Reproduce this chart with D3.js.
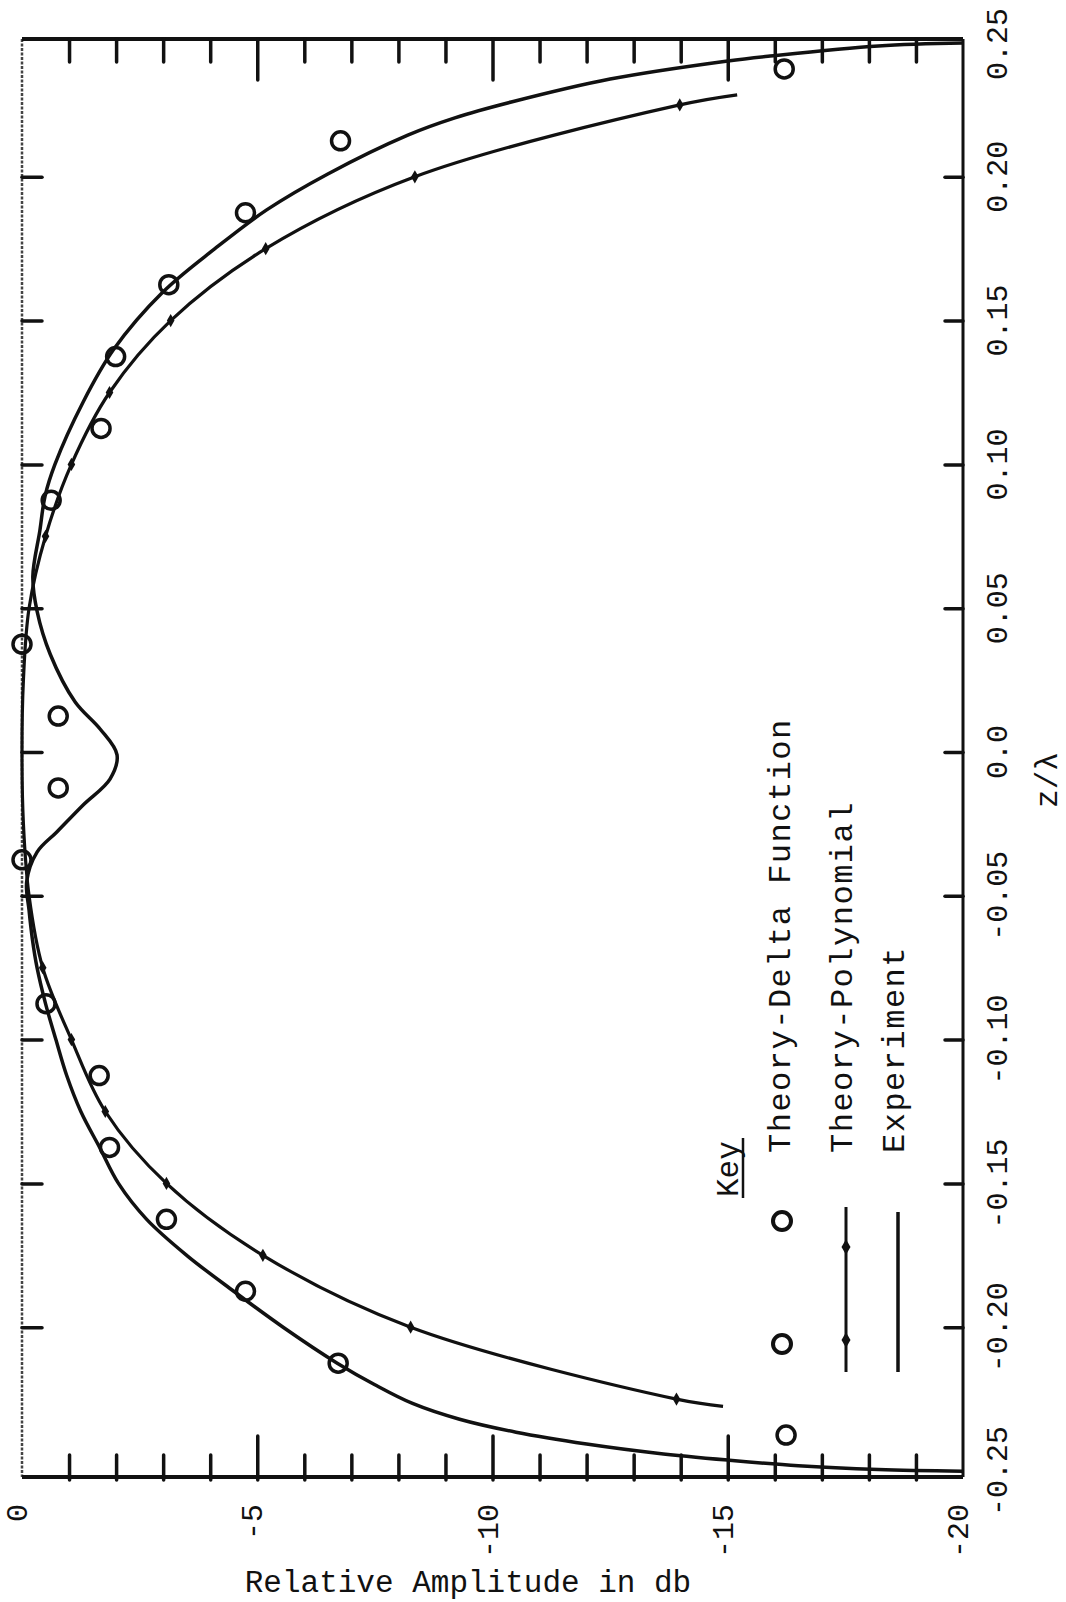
<!DOCTYPE html>
<html>
<head>
<meta charset="utf-8">
<script src="https://cdn.jsdelivr.net/npm/d3@7"></script>
<style>
  body { margin: 0; background: #fff; }
  text { font-family: "Liberation Mono", "DejaVu Sans Mono", monospace; fill: #111; }
</style>
</head>
<body>
<div id="chart"></div>
<script>
// Theory-Delta Function (open circles): z/lambda and relative amplitude in db
const deltaZ   = [0.2375, 0.2125, 0.1875, 0.1625, 0.1375, 0.1125, 0.0875, 0.0375, 0.0125, -0.0125, -0.0375, -0.0875, -0.1125, -0.1375, -0.1625, -0.1875, -0.2125, -0.2375];
const deltaAmp = [-16.2, -6.77, -4.75, -3.12, -1.99, -1.68, -0.62, 0.0, -0.77, -0.77, 0.0, -0.51, -1.64, -1.86, -3.07, -4.75, -6.72, -16.24];

// Theory-Polynomial (line with diamonds)
const polyZ   = [0.2285, 0.225, 0.2, 0.175, 0.15, 0.125, 0.1, 0.075, 0.05, 0.025, 0, -0.025, -0.05, -0.075, -0.1, -0.125, -0.15, -0.175, -0.2, -0.225, -0.2275];
const polyAmp = [-15.2, -13.98, -8.35, -5.18, -3.16, -1.86, -1.05, -0.5, -0.15, -0.03, 0, -0.03, -0.15, -0.44, -1.05, -1.77, -3.07, -5.12, -8.26, -13.91, -14.9];

// Experiment (plain line)
const expZ   = [0.2465, 0.2455, 0.242, 0.2403, 0.234, 0.226, 0.2205, 0.2145, 0.201, 0.1885, 0.175, 0.16, 0.14, 0.1217, 0.1, 0.089, 0.077, 0.061, 0.049, 0.034, 0.0174, 0.008, -0.001, -0.0094, -0.0184, -0.0278, -0.0348, -0.045, -0.055, -0.065, -0.075, -0.0875, -0.1, -0.1125, -0.125, -0.1375, -0.15, -0.1625, -0.175, -0.1875, -0.2, -0.2125, -0.22, -0.2265, -0.232, -0.2365, -0.2406, -0.2438, -0.2462, -0.2482, -0.2495, -0.2501];
const expAmp = [-20, -18.2, -15.9, -15.0, -12.5, -10.4, -9.2, -8.2, -6.5, -5.2, -4.1, -3.0, -1.95, -1.3, -0.7, -0.49, -0.38, -0.23, -0.32, -0.6, -1.13, -1.66, -2.02, -1.87, -1.3, -0.74, -0.32, -0.1, -0.15, -0.22, -0.32, -0.5, -0.72, -0.95, -1.25, -1.65, -2.05, -2.65, -3.5, -4.5, -5.55, -6.7, -7.5, -8.3, -9.3, -10.5, -12.0, -13.5, -15.0, -16.5, -18.2, -20];

// axes
const ampTicks  = [0, -5, -10, -15, -20];
const ampLabels = ["0", "-5", "-10", "-15", "-20"];
const zTicks    = [0.25, 0.2, 0.15, 0.1, 0.05, 0, -0.05, -0.1, -0.15, -0.2, -0.25];
const zLabels   = ["0.25", "0.20", "0.15", "0.10", "0.05", "0.0", "-0.05", "-0.10", "-0.15", "-0.20", "-0.25"];
const legendLabels = ["Theory-Delta Function", "Theory-Polynomial", "Experiment"];

const W = 1066, H = 1602;
const frame = {left: 22, right: 963, top: 39, bottom: 1477};
const ink = "#111";

const svg = d3.select("#chart").append("svg")
    .attr("width", W).attr("height", H);
svg.append("rect").attr("width", W).attr("height", H).attr("fill", "#fff");

const x = d3.scaleLinear().domain([0, -20]).range([frame.left, frame.right]);
const y = d3.scaleLinear().domain([0.25, -0.25]).range([33, 1471]);

// frame
svg.append("line").attr("x1", frame.left).attr("x2", frame.left)
    .attr("y1", frame.top).attr("y2", frame.bottom)
    .attr("stroke", "#444").attr("stroke-width", 2.5).attr("stroke-dasharray", "3 1.5");
svg.append("line").attr("x1", frame.left).attr("x2", frame.right)
    .attr("y1", frame.top).attr("y2", frame.top)
    .attr("stroke", ink).attr("stroke-width", 4);
svg.append("line").attr("x1", frame.left).attr("x2", frame.right)
    .attr("y1", frame.bottom).attr("y2", frame.bottom)
    .attr("stroke", ink).attr("stroke-width", 4);
svg.append("line").attr("x1", frame.right).attr("x2", frame.right)
    .attr("y1", frame.top).attr("y2", frame.bottom)
    .attr("stroke", ink).attr("stroke-width", 3);

// tick marks on the frame
const minorAmp = d3.range(-1, -20, -1).filter(d => d % 5 !== 0);
const majorAmp = [-5, -10, -15];
const inner = d3.range(0.2, -0.2001, -0.05);

function styleAxis(g) {
    g.select(".domain").remove();
    g.selectAll(".tick line").attr("stroke", ink).attr("stroke-width", 3.5).attr("stroke-linecap", "round");
}
svg.append("g").attr("transform", `translate(0,${frame.top})`)
    .call(d3.axisBottom(x).tickValues(minorAmp).tickSize(23).tickFormat("")).call(styleAxis);
svg.append("g").attr("transform", `translate(0,${frame.top})`)
    .call(d3.axisBottom(x).tickValues(majorAmp).tickSize(41).tickFormat("")).call(styleAxis);
svg.append("g").attr("transform", `translate(0,${frame.bottom + 3})`)
    .call(d3.axisTop(x).tickValues(minorAmp).tickSize(25).tickFormat("")).call(styleAxis);
svg.append("g").attr("transform", `translate(0,${frame.bottom + 3})`)
    .call(d3.axisTop(x).tickValues(majorAmp).tickSize(44).tickFormat("")).call(styleAxis);
svg.append("g").attr("transform", `translate(${frame.left},0)`)
    .call(d3.axisRight(y).tickValues(inner).tickSize(20).tickFormat("")).call(styleAxis);
svg.append("g").attr("transform", `translate(${frame.right},0)`)
    .call(d3.axisLeft(y).tickValues(inner).tickSize(18).tickFormat("")).call(styleAxis);

// tick labels (rotated, typewriter style)
svg.append("g").selectAll("text")
    .data(ampTicks)
    .join("text")
    .attr("transform", d => `translate(${x(d) + 5},1504) rotate(-90)`)
    .attr("text-anchor", "end")
    .attr("font-size", 30)
    .text((d, i) => ampLabels[i]);

svg.append("g").selectAll("text")
    .data(zTicks)
    .join("text")
    .attr("transform", d => `translate(1007,${Math.max(44, y(d))}) rotate(-90)`)
    .attr("text-anchor", "middle")
    .attr("font-size", 30)
    .text((d, i) => zLabels[i]);

svg.append("text")
    .attr("transform", "translate(1057,780) rotate(-90)")
    .attr("text-anchor", "middle")
    .attr("font-size", 31)
    .text("z/λ");

svg.append("text")
    .attr("x", 468).attr("y", 1592)
    .attr("text-anchor", "middle")
    .attr("font-size", 31)
    .text("Relative Amplitude in db");

// curves
const line = d3.line()
    .x(d => x(d.a))
    .y(d => y(d.z))
    .curve(d3.curveCatmullRom.alpha(0.5));

const expData = expZ.map((z, i) => ({z: z, a: expAmp[i]}));
const polyData = polyZ.map((z, i) => ({z: z, a: polyAmp[i]}));
const deltaData = deltaZ.map((z, i) => ({z: z, a: deltaAmp[i]}));

svg.append("path").datum(expData)
    .attr("d", line).attr("fill", "none")
    .attr("stroke", ink).attr("stroke-width", 3.5);

svg.append("path").datum(polyData)
    .attr("d", line).attr("fill", "none")
    .attr("stroke", ink).attr("stroke-width", 3.2);

// diamonds at the computed points of the polynomial
const diamond = d3.symbol(d3.symbolDiamond, 50);
svg.append("g").selectAll("path")
    .data(polyData.filter(d => Math.abs(d.z) >= 0.074 && Math.abs(Math.round(d.z * 40) - d.z * 40) < 1e-6))
    .join("path")
    .attr("transform", d => `translate(${x(d.a)},${y(d.z)})`)
    .attr("d", diamond)
    .attr("fill", ink);

svg.append("g").selectAll("circle")
    .data(deltaData)
    .join("circle")
    .attr("cx", d => x(d.a))
    .attr("cy", d => y(d.z))
    .attr("r", 9)
    .attr("fill", "none")
    .attr("stroke", ink)
    .attr("stroke-width", 3.5);

// key
const key = svg.append("g");
key.append("text")
    .attr("transform", "translate(738,1197) rotate(-90)")
    .attr("font-size", 31)
    .text("Key");
key.append("line").attr("x1", 743).attr("x2", 743).attr("y1", 1198).attr("y2", 1138)
    .attr("stroke", ink).attr("stroke-width", 2.5);

const keyX = [790, 852, 904];
key.selectAll("text.lab")
    .data(legendLabels)
    .join("text")
    .attr("class", "lab")
    .attr("transform", (d, i) => `translate(${keyX[i]},1153) rotate(-90)`)
    .attr("font-size", 32)
    .attr("letter-spacing", 1.5)
    .text(d => d);

[1221, 1344].forEach(cy => {
    key.append("circle").attr("cx", 782).attr("cy", cy).attr("r", 9)
        .attr("fill", "none").attr("stroke", ink).attr("stroke-width", 4);
});
key.append("line").attr("x1", 846).attr("x2", 846).attr("y1", 1207).attr("y2", 1372)
    .attr("stroke", ink).attr("stroke-width", 3);
[1247, 1340].forEach(cy => {
    key.append("path").attr("transform", `translate(846,${cy})`)
        .attr("d", d3.symbol(d3.symbolDiamond, 70)).attr("fill", ink);
});
key.append("line").attr("x1", 898).attr("x2", 898).attr("y1", 1212).attr("y2", 1372)
    .attr("stroke", ink).attr("stroke-width", 3.5);
</script>
</body>
</html>
